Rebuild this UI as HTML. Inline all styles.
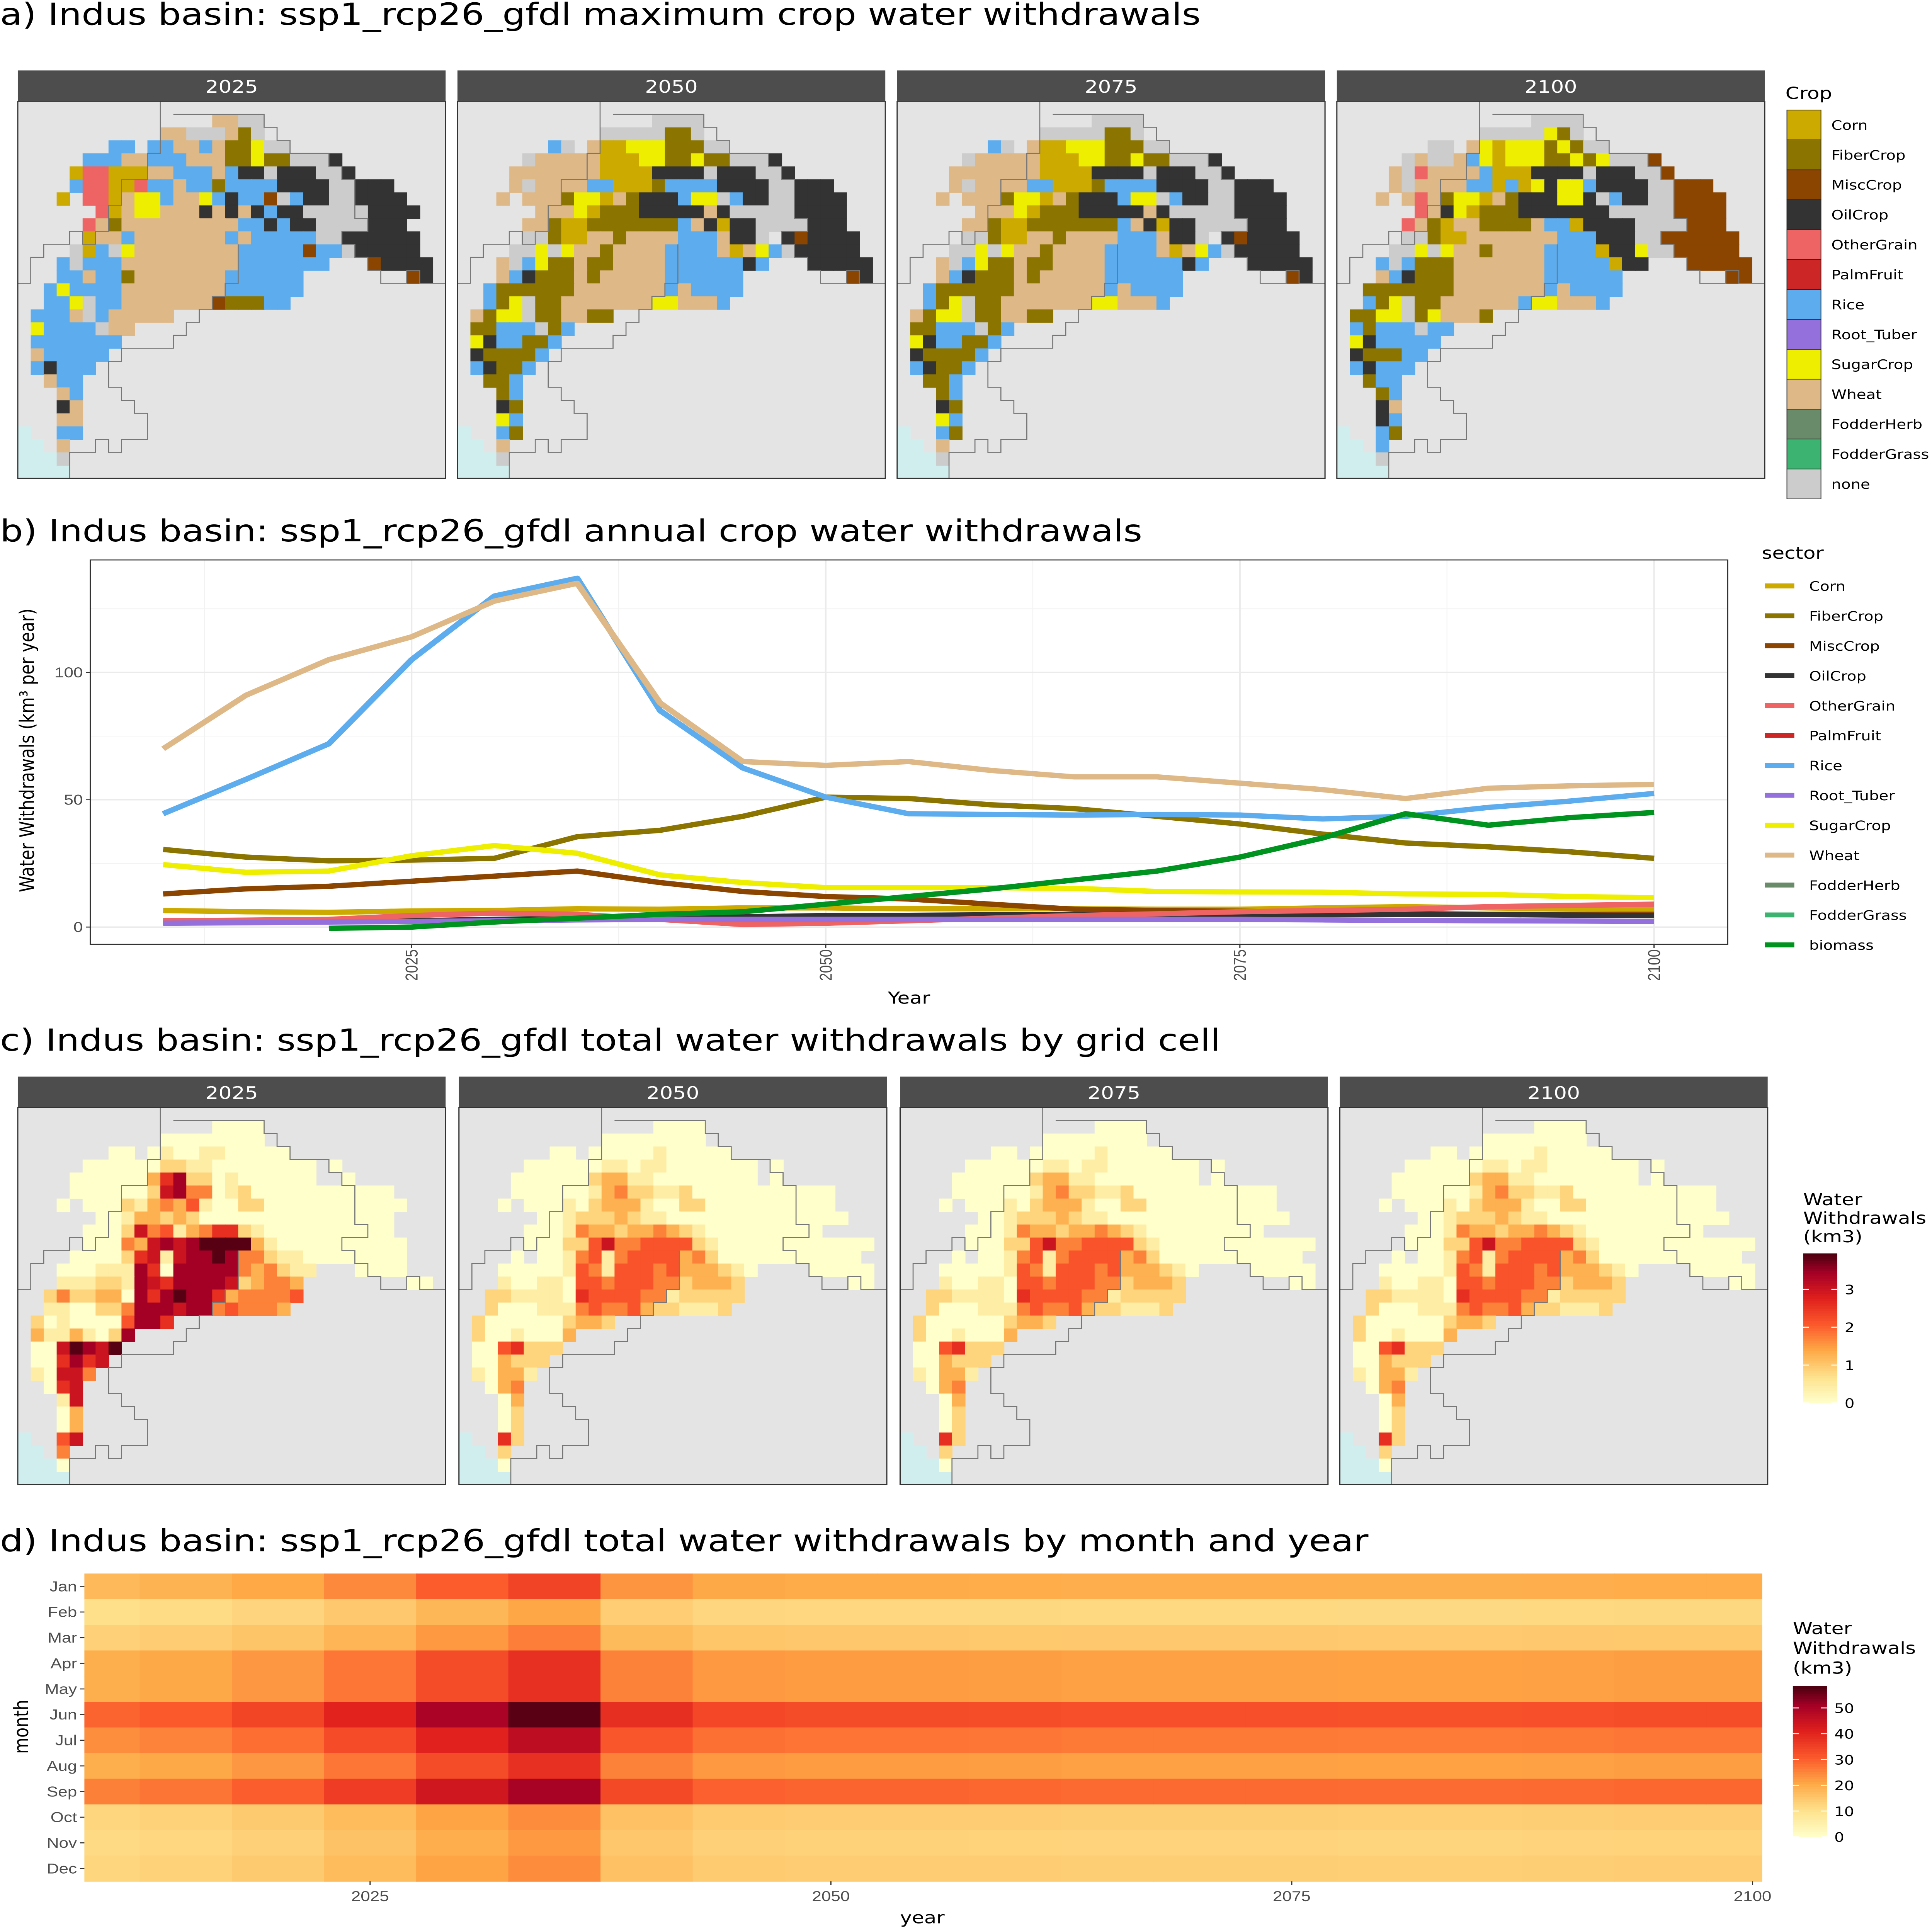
<!DOCTYPE html>
<html><head><meta charset="utf-8"><title>Indus basin water withdrawals</title>
<style>
html,body{margin:0;padding:0;background:#fff;width:100%;height:100%;overflow:hidden;}
svg{display:block;width:100vw;height:100vh;position:absolute;left:0;top:0;}
text{font-family:"Liberation Sans",sans-serif;}
.ttl{font-family:"DejaVu Sans","Liberation Sans",sans-serif;font-size:24.5px;fill:#000;}
.strip{font-family:"DejaVu Sans","Liberation Sans",sans-serif;font-size:14px;fill:#fff;}
.leg{font-family:"DejaVu Sans","Liberation Sans",sans-serif;font-size:10.5px;fill:#000;}
.legt{font-family:"DejaVu Sans","Liberation Sans",sans-serif;font-size:13.5px;fill:#000;}
.tick{font-size:11.5px;fill:#4d4d4d;}
.axt{font-family:"DejaVu Sans","Liberation Sans",sans-serif;font-size:13.5px;fill:#000;}
</style></head>
<body>
<svg id="fig" xmlns="http://www.w3.org/2000/svg" viewBox="0 0 1305 1563" preserveAspectRatio="none">
<rect x="0" y="0" width="1305" height="1563" fill="#ffffff"/>
<text class="ttl" x="0" y="20">a) Indus basin: ssp1_rcp26_gfdl maximum crop water withdrawals</text>
<text class="ttl" x="0" y="438">b) Indus basin: ssp1_rcp26_gfdl annual crop water withdrawals</text>
<text class="ttl" x="0" y="850">c) Indus basin: ssp1_rcp26_gfdl total water withdrawals by grid cell</text>
<text class="ttl" x="0" y="1255">d) Indus basin: ssp1_rcp26_gfdl total water withdrawals by month and year</text>
<g id="layer"></g>
</svg>
<script>
// ---------- shared data ----------
const cropCodes = ['C','F','M','O','G','P','R','T','S','W','H','Q','N'];
const cropNames = ['Corn','FiberCrop','MiscCrop','OilCrop','OtherGrain','PalmFruit','Rice','Root_Tuber','SugarCrop','Wheat','FodderHerb','FodderGrass','none'];
const cropColors = ['#cdaa00','#8b7500','#8b4500','#333333','#ee6363','#cd2626','#5cacee','#9370db','#eeee00','#deb887','#698b69','#3cb371','#cccccc'];
const facetYears = ['2025','2050','2075','2100'];

const crop2025 = ["","15:WWNN","11:WWNNNWFN","7:RR 10:RRWWRWFFSNN","5:RRRWWRRRWWWFFSFFNNNO","4:CGGCCCWWRRRWROONOOONNO","4:RGGCCGRRWRRFRRRROOOONNOOO","3:C 5:GGCWSSRWWSRORRMNROONNOOOO","6:GCWSSWWWOWOWOROONNNNNOOOO","5:GWFWWWWWWWWWRROROONNNNOOO","5:CWWRWWWWWWWRWRRRRRNNOOOOOO","4:NCRNSWWWWWWWWRRRRRMRRNOOOOO","3:RNRRRWWWWWWWWWRRRRRRR 27:MOOOO","3:RRWRRFWWWWWWWRRRRRR 30:MO","2:RSRRRRWWWWWWWWRRRRRR","2:RRSNRRWWWWWWWMFFFRR","1:RRRWNRWWWWW","1:SRRRRNWW","1:RRRRRRR","1:WRRRRR","1:RORRR","2:WRR","3:WR","3:OW","3:WW","3:RR","3:W","3:N"];
const crop2050 = ["","15:NNNN","11:NNNNNFFN","7:RN 10:WCCSSSFFFNN","5:NWWWWWCCCSSFFSFFNNNO","4:WWWWWWWCCCCOOOONOOONNO","4:WNWWWWRRCCCFRRRROOOONNOOO","3:W 5:WWWFSSCWFOOORSSNROONNOOOO","6:WWWSCFFFOOOOOWONNNNNOOOO","5:WWFCCFFFFFFFRWOCOONNNNOOO","5:NNFCCWWFWWWWRRRWOON.OMOOOO","4:NNSNSWWFWWWWRRRRWCWSRNOOOOO","3:WNRSFFWFFWWWWRRRRRROR 27:OOOOO","3:WROFFFWFWWWWWRRRRRR 30:MO","2:RFFFFFFWWWWWWWRWRRRR","2:RFSNFFWWWWWWWSSWWWR","1:WFSSNFFWWFF","1:FFRRRNFR","1:SORRFFR","1:OFFFFR","1:ROFFR","2:FFR","3:FR","3:OF","3:SR","3:RF","3:W","3:N"];
const crop2075 = crop2050;
const crop2100 = ["","15:NNNN","11:NNNNNSFN","7:NN 10:WSCSSSFSFNN","5:NWNNWRSCSSSFFSFSNNNM","4:WNGWWWWRCCCOOOONOOONNM","4:WNWWWWRRCRCSOSSROOOONNMMM","3:W 5:WGWFSSCWFOOOSSONROONNMMMM","6:GWOSCFFFOOOOOOONNNNNMMMM","5:GWFCWWFFFFWRRCOOOONNNNMMM","5:NNFCCWWWWWWWRRROOONNMMMMMM","4:NNSNSWWFWWWWRRRRCOOSNNMMMMM","3:RNRFFFWWWWWWWRRRRRCOO 27:MMMMM","3:WROFFFWWWWWWWRRRRRR 30:MM","2:FFFFFFFWWWWWWWRWRRRR","2:RFSNFFWWWWWWRSSWWWR","1:FFSSNFSWWWF","1:RFRRRNRR","1:SORRRRR","1:OFFFRR","1:RORRR","2:FRR","3:FR","3:OW","3:OR","3:RF","3:R","3:N"];

// grid-cell withdrawals, digit d => d * kmPerLevel km3
const kmPerLevel = 0.43;
const heat2025 = ["","15:0000","11:00000000","7:00.01001100000","5:000000221100000000.0","4:0000003682201000000..0","4:0000002784401200000000000","3:0.0002134351002200000000000","6:00133232000000000000000","5:000274513466210000000000","5:0004378789999310000000000","4:00002671788984421100000000","3:00011186088888434211 26:0000","3:1112218768888723443 30:00","2:24223308689886344445","2:1100224888788454443","1:20100005886","1:31131028","1:0079879","1:006867","1:10774","2:067","3:17","3:03","3:03","3:57","3:4","3:0"];
const heat2050 = ["","15:0000","11:00000000","7:00.00000100000","5:000000110110000000.0","4:0000002331100000000.0","4:0000001342211200000000000","3:0.000102333100220000000000 0","6:001222321100000000000000","5:00014332334321000000000 00","5:000225744555521000000000000","4:0.0014514555534200000000000","3:00000154155545333210 0 27:00000","3:1001105545554423332 30:00","2:22111106555544122222","2:2000111454453221112","1:20000002332","1:20010003","1:0056222","1:003222","1:10331","2:034","3:03","3:02","3:02","3:62","3:2","3:0"];
const heat2075 = heat2050;
const heat2100 = heat2050;

// annual crop water withdrawals (km3 per year)
const lineYears = [2010,2015,2020,2025,2030,2035,2040,2045,2050,2055,2060,2065,2070,2075,2080,2085,2090,2095,2100];
const sectorNames = ['Corn','FiberCrop','MiscCrop','OilCrop','OtherGrain','PalmFruit','Rice','Root_Tuber','SugarCrop','Wheat','FodderHerb','FodderGrass','biomass'];
const sectorColors = ['#cdaa00','#8b7500','#8b4500','#333333','#ee6363','#cd2626','#5cacee','#9370db','#eeee00','#deb887','#698b69','#3cb371','#00931f'];
const cornVals = [6.5,6,5.8,6.3,6.5,7.2,7,7.5,7.5,7.2,7.2,7.2,7,7,7.5,8,7.5,7.2,7];
const fiberVals = [30.5,27.5,26,26.3,27,35.5,38,43.5,51,50.5,48,46.5,43.5,40.5,36.5,33,31.5,29.5,27];
const miscVals = [13,15,16,18,20,22,17.5,14,12,11,9,7,6.5,6.2,5.8,5.3,5,5,5];
const oilVals = [2,2,2.2,2.5,3,3.5,3.5,4,4.5,4.6,4.8,4.9,5,5,5,5,4.9,4.7,4.5];
const otherGrainVals = [2.5,2.7,3,4.5,5.5,5,3,1,1.5,2.5,3.5,4.5,5.2,6,6.5,7,8,8.5,9];
const riceVals = [44.5,58,72,105,130,137,85,62.5,51,44.5,44.2,44,44.2,44,42.5,43.5,47,49.5,52.5];
const rootVals = [1.5,1.7,2,2.2,2.5,2.8,3,3,3,3,3,3,3,3,2.8,2.6,2.5,2.4,2.2];
const sugarVals = [24.5,21.5,22,28,32,29,20.5,17.5,15.5,15.5,15.5,15.2,14,13.8,13.7,13,12.8,12,11.5];
const wheatVals = [70,91,105,114,128,135,88,65,63.5,65,61.5,59,59,56.5,54,50.5,54.5,55.5,56];
const biomassVals = [null,null,-0.5,0,2,3.5,5,6,9,12,15,18.5,22,27.5,35,44.5,40,43,45];
const yTicks = [0,50,100];
const xTicks = [2025,2050,2075,2100];

// monthly withdrawals: 2050 monthly profile (km3) x relative annual level per 5-yr period
const months = ['Jan','Feb','Mar','Apr','May','Jun','Jul','Aug','Sep','Oct','Nov','Dec'];
const monthProfile = [20,12,15,22,22,33,27,22,29,14,13,14];
const periodYears = [2010,2015,2020,2025,2030,2035,2040,2045,2050,2055,2060,2065,2070,2075,2080,2085,2090,2095,2100];
const periodLevel = [0.88,0.93,1.03,1.22,1.5,1.72,1.15,1.02,1.0,1.0,0.99,0.98,0.98,0.98,0.97,0.97,0.98,0.99,0.99];
const heatLegendTicks = [0,10,20,30,40,50];
const mapLegendTicks = [0,1,2,3];

// ---------- helpers ----------
const NS = 'http://www.w3.org/2000/svg';
const layer = document.getElementById('layer');
function mk(tag, attrs, name, parent) {
  const el = document.createElementNS(NS, tag);
  for (const k in attrs) el.setAttribute(k, attrs[k]);
  
  
  (parent || layer).appendChild(el);
  return el;
}
function txt(x, y, s, cls, name, extra) {
  const a = Object.assign({x:x, y:y, class:cls}, extra || {});
  const t = mk('text', a, name);
  t.textContent = s;
  return t;
}
const rampStops = [[0,[255,255,204]],[0.17,[254,227,143]],[0.35,[254,170,71]],[0.52,[252,91,44]],[0.7,[224,32,29]],[0.87,[165,0,38]],[1,[74,0,16]]];
function ramp(t) {
  t = Math.max(0, Math.min(1, t));
  for (let i = 1; i < rampStops.length; i++) {
    if (t <= rampStops[i][0]) {
      const a = rampStops[i-1], b = rampStops[i];
      const f = (t - a[0]) / (b[0] - a[0]);
      const c = a[1].map((v, j) => Math.round(v + (b[1][j] - v) * f));
      return 'rgb(' + c.join(',') + ')';
    }
  }
  return 'rgb(74,0,16)';
}
function parseRows(rows, fn) {
  rows.forEach((row, r) => {
    if (!row) return;
    row.split(' ').forEach(seg => {
      if (!seg.includes(':')) return;
      const [s, codes] = seg.split(':');
      for (let i = 0; i < codes.length; i++) {
        if (codes[i] !== '.' && codes[i] !== ' ') fn(r, parseInt(s) + i, codes[i]);
      }
    });
  });
}
function mapPanel(x0, y0, label, rows, colorFn, prefix) {
  const W = 289, H = 305, cw = W / 33, ch = H / 29;
  mk('rect', {x:x0, y:y0 - 25, width:W, height:25, fill:'#4d4d4d'}, prefix + '-strip-' + label);
  txt(x0 + W / 2, y0 - 7, label, 'strip', prefix + '-strip-label-' + label, {'text-anchor':'middle'});
  mk('rect', {x:x0, y:y0, width:W, height:H, fill:'#e4e4e4'}, prefix + '-map-bg-' + label);
  const sea = [[25,0],[26,0],[27,0],[28,0],[26,1],[27,1],[28,1],[27,2],[28,2],[28,3]];
  sea.forEach(p => mk('rect', {x:x0 + p[1]*cw, y:y0 + p[0]*ch, width:cw + 0.3, height:ch + 0.3, fill:'#d1eeee'}, 'sea-cell'));
  parseRows(rows, (r, c, code) => {
    mk('rect', {x:(x0 + c*cw).toFixed(2), y:(y0 + r*ch).toFixed(2), width:(cw + 0.35).toFixed(2), height:(ch + 0.35).toFixed(2), fill:colorFn(code)}, prefix + '-cell');
  });
  mk('path', {d:'M'+(x0+12*cw)+' '+(y0+ch)+' H'+(x0+19*cw)+' V'+(y0+2*ch)+' H'+(x0+20*cw)+' V'+(y0+3*ch)+' H'+(x0+21*cw)+' V'+(y0+4*ch)+' H'+(x0+24*cw)+' V'+(y0+5*ch)+' H'+(x0+25*cw)+' V'+(y0+6*ch)+' H'+(x0+26*cw)+' V'+(y0+9*ch)+' H'+(x0+27*cw)+' V'+(y0+10*ch)+' H'+(x0+25*cw)+' V'+(y0+11*ch)+' H'+(x0+26*cw)+' V'+(y0+12*ch)+' H'+(x0+27*cw)+' V'+(y0+13*ch)+' H'+(x0+28*cw)+' V'+(y0+14*ch)+' H'+(x0+30*cw)+' V'+(y0+13*ch)+' H'+(x0+31*cw)+' V'+(y0+14*ch)+' H'+(x0+33*cw), fill:'none', stroke:'#777', 'stroke-width':0.7}, prefix + '-boundary');
  mk('path', {d:'M'+x0+' '+(y0+14*ch)+' H'+(x0+cw)+' V'+(y0+12*ch)+' H'+(x0+2*cw)+' V'+(y0+11*ch)+' H'+(x0+4*cw)+' V'+(y0+10*ch)+' H'+(x0+5*cw)+' V'+(y0+11*ch)+' H'+(x0+6*cw)+' V'+(y0+10*ch)+' H'+(x0+7*cw)+' V'+(y0+8*ch)+' H'+(x0+8*cw)+' V'+(y0+6*ch)+' H'+(x0+10*cw)+' V'+(y0+4*ch)+' H'+(x0+11*cw)+' V'+y0, fill:'none', stroke:'#777', 'stroke-width':0.7}, prefix + '-boundary');
  mk('path', {d:'M'+(x0+4*cw)+' '+(y0+H)+' V'+(y0+27*ch)+' H'+(x0+6*cw)+' V'+(y0+26*ch)+' H'+(x0+7*cw)+' V'+(y0+27*ch)+' H'+(x0+8*cw)+' V'+(y0+26*ch)+' H'+(x0+10*cw)+' V'+(y0+24*ch)+' H'+(x0+9*cw)+' V'+(y0+23*ch)+' H'+(x0+8*cw)+' V'+(y0+22*ch)+' H'+(x0+7*cw)+' V'+(y0+20*ch)+' H'+(x0+8*cw)+' V'+(y0+19*ch)+' H'+(x0+12*cw)+' V'+(y0+18*ch)+' H'+(x0+13*cw)+' V'+(y0+17*ch)+' H'+(x0+14*cw)+' V'+(y0+16*ch)+' H'+(x0+15*cw)+' V'+(y0+15*ch)+' H'+(x0+16*cw)+' V'+(y0+14*ch)+' H'+(x0+17*cw)+' V'+(y0+11*ch), fill:'none', stroke:'#777', 'stroke-width':0.7}, prefix + '-boundary');
  mk('rect', {x:x0, y:y0, width:W, height:H, fill:'none', stroke:'#333', 'stroke-width':0.8}, prefix + '-panel-border-' + label);
}

// ---------- panel a ----------
const cropGrids = [crop2025, crop2050, crop2075, crop2100];
const aX = [12,309,606,903];
const cropColor = code => cropColors[cropCodes.indexOf(code)];
facetYears.forEach((y, i) => mapPanel(aX[i], 82, y, cropGrids[i], cropColor, 'crop'));
txt(1206, 80, 'Crop', 'legt', 'crop-legend-title');
cropNames.forEach((n, i) => {
  mk('rect', {x:1207, y:89 + i*24.2, width:23, height:24.2, fill:cropColors[i], stroke:'#222', 'stroke-width':0.5}, 'crop-legend-key-' + n.toLowerCase());
  txt(1237, 89 + i*24.2 + 16, n, 'leg', 'crop-legend-label-' + n.toLowerCase());
});

// ---------- panel b ----------
const px0 = 61, px1 = 1167, py0 = 453, py1 = 764;
const xs = yr => 278 + (yr - 2025) * 11.19;
const ys = v => 750 - v * 2.06;
mk('rect', {x:px0, y:py0, width:px1-px0, height:py1-py0, fill:'#fff'}, 'line-plot-bg');
[12.5,37.5,62.5,87.5].forEach(m => mk('line', {x1:xs(2000+m), x2:xs(2000+m), y1:py0, y2:py1, stroke:'#f2f2f2', 'stroke-width':0.6}, 'x-minor-grid'));
[25,75,125].forEach(m => mk('line', {x1:px0, x2:px1, y1:ys(m), y2:ys(m), stroke:'#f2f2f2', 'stroke-width':0.6}, 'y-minor-grid'));
xTicks.forEach(t => mk('line', {x1:xs(t), x2:xs(t), y1:py0, y2:py1, stroke:'#ebebeb', 'stroke-width':1.1}, 'x-major-grid'));
yTicks.forEach(t => mk('line', {x1:px0, x2:px1, y1:ys(t), y2:ys(t), stroke:'#ebebeb', 'stroke-width':1.1}, 'y-major-grid'));
const seriesVals = [cornVals, fiberVals, miscVals, oilVals, otherGrainVals, null, riceVals, rootVals, sugarVals, wheatVals, null, null, biomassVals];
seriesVals.forEach((vals, si) => {
  if (!vals) return;
  let d = '';
  vals.forEach((v, i) => {
    if (v === null) return;
    d += (d ? ' L' : 'M') + xs(lineYears[i]).toFixed(1) + ' ' + ys(v).toFixed(1);
  });
  mk('path', {d:d, fill:'none', stroke:sectorColors[si], 'stroke-width':4.3, 'stroke-linejoin':'round'}, 'line-' + sectorNames[si].toLowerCase());
});
mk('rect', {x:px0, y:py0, width:px1-px0, height:py1-py0, fill:'none', stroke:'#333', 'stroke-width':0.8}, 'line-plot-border');
yTicks.forEach(t => {
  mk('line', {x1:px0-3, x2:px0, y1:ys(t), y2:ys(t), stroke:'#333', 'stroke-width':0.8}, 'y-tick');
  txt(px0-5, ys(t)+4, String(t), 'tick', 'y-tick-label', {'text-anchor':'end'});
});
xTicks.forEach(t => {
  mk('line', {x1:xs(t), x2:xs(t), y1:py1, y2:py1+3, stroke:'#333', 'stroke-width':0.8}, 'x-tick');
  txt(0, 0, String(t), 'tick', 'x-tick-label', {'text-anchor':'end', transform:'translate(' + (xs(t)+4) + ',768) rotate(-90)'});
});
txt(614, 812, 'Year', 'axt', 'x-axis-title', {'text-anchor':'middle'});
txt(0, 0, 'Water Withdrawals (km³ per year)', 'axt', 'y-axis-title', {'text-anchor':'middle', transform:'translate(23,607) rotate(-90)'});
txt(1190, 452, 'sector', 'legt', 'sector-legend-title');
sectorNames.forEach((n, i) => {
  const yy = 474 + i*24.2;
  mk('line', {x1:1192, x2:1212, y1:yy, y2:yy, stroke:sectorColors[i], 'stroke-width':4}, 'sector-legend-key-' + n.toLowerCase());
  txt(1222, yy+4, n, 'leg', 'sector-legend-label-' + n.toLowerCase());
});

// ---------- panel c ----------
const heatGrids = [heat2025, heat2050, heat2075, heat2100];
const cX = [12,310,608,905];
const heatColor = code => ramp(parseInt(code) * kmPerLevel / 3.95);
facetYears.forEach((y, i) => mapPanel(cX[i], 896, y, heatGrids[i], heatColor, 'grid'));
txt(1218, 975, 'Water', 'legt', 'grid-legend-title-1');
txt(1218, 990, 'Withdrawals', 'legt', 'grid-legend-title-2');
txt(1218, 1005, '(km3)', 'legt', 'grid-legend-title-3');
function colorbar(x, yTop, yBot, vmax, ticks, name) {
  const n = 60, h = (yBot - yTop) / n;
  for (let i = 0; i < n; i++) {
    mk('rect', {x:x, y:yBot - (i+1)*h, width:23, height:h + 0.3, fill:ramp((i + 0.5) / n)}, name + '-bar-step');
  }
  ticks.forEach(t => {
    const yy = yBot - t / vmax * (yBot - yTop);
    mk('line', {x1:x, x2:x+4, y1:yy, y2:yy, stroke:'#fff', 'stroke-width':0.8}, name + '-tick');
    mk('line', {x1:x+19, x2:x+23, y1:yy, y2:yy, stroke:'#fff', 'stroke-width':0.8}, name + '-tick');
    txt(x+28, yy+4, String(t), 'leg', name + '-tick-label');
  });
}
colorbar(1218, 1014, 1135, 3.95, mapLegendTicks, 'grid-colorbar');

// ---------- panel d ----------
const hx0 = 57, hx1 = 1190, hy0 = 1273, hy1 = 1522;
const colW = (hx1 - hx0) / 91, rowH = (hy1 - hy0) / 12;
const yrX = yr => hx0 + (yr - 2010 + 0.5) * colW;
periodYears.forEach((py, pi) => {
  const xa = Math.max(hx0, yrX(py) - 2.5 * colW), xb = Math.min(hx1, yrX(py) + 2.5 * colW);
  months.forEach((m, mi) => {
    const v = monthProfile[mi] * periodLevel[pi];
    mk('rect', {x:xa.toFixed(2), y:(hy0 + mi*rowH).toFixed(2), width:(xb - xa + 0.3).toFixed(2), height:(rowH + 0.3).toFixed(2), fill:ramp(v / 58)}, 'heat-cell-' + m.toLowerCase() + '-' + py);
  });
});
months.forEach((m, mi) => {
  const yy = hy0 + (mi + 0.5) * rowH;
  mk('line', {x1:hx0-3, x2:hx0, y1:yy, y2:yy, stroke:'#333', 'stroke-width':0.8}, 'month-tick');
  txt(hx0-5, yy+4, m, 'tick', 'month-label-' + m.toLowerCase(), {'text-anchor':'end'});
});
xTicks.forEach(t => {
  mk('line', {x1:yrX(t), x2:yrX(t), y1:hy1, y2:hy1+3, stroke:'#333', 'stroke-width':0.8}, 'year-tick');
  txt(yrX(t), hy1+16, String(t), 'tick', 'year-tick-label', {'text-anchor':'middle'});
});
txt(623, 1556, 'year', 'axt', 'heat-x-axis-title', {'text-anchor':'middle'});
txt(0, 0, 'month', 'axt', 'heat-y-axis-title', {'text-anchor':'middle', transform:'translate(19,1397) rotate(-90)'});
txt(1211, 1322, 'Water', 'legt', 'heat-legend-title-1');
txt(1211, 1338, 'Withdrawals', 'legt', 'heat-legend-title-2');
txt(1211, 1354, '(km3)', 'legt', 'heat-legend-title-3');
colorbar(1211, 1364, 1486, 58.5, heatLegendTicks, 'heat-colorbar');
</script>
</body></html>
